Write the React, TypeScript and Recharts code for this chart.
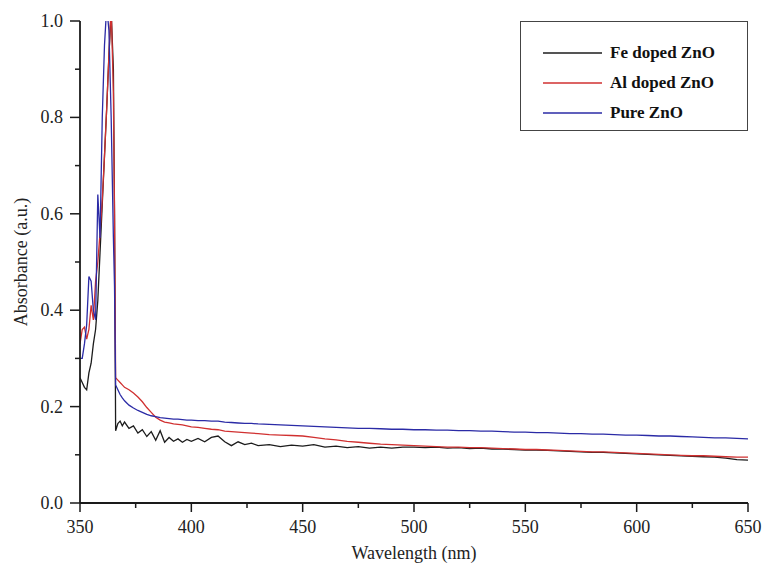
import { LineChart, Line, XAxis, YAxis, Legend } from "recharts";

// wavelength grid (nm)
const wavelengths = [
  350, 351, 352, 353, 354, 355, 356, 357, 358, 359, 360, 361, 362, 363, 364, 365,
  365.5, 366, 367, 368, 369, 370,
  372, 374, 376, 378, 380, 382, 384, 386, 388, 390, 392, 394, 396, 398, 400,
  403, 406, 409, 412, 415, 418, 421, 424, 427, 430,
  435, 440, 445, 450, 455, 460, 465, 470, 475, 480, 485, 490, 495, 500, 505, 510,
  515, 520, 525, 530, 535, 540, 545, 550, 555, 560, 565, 570, 575, 580, 585, 590,
  595, 600, 605, 610, 615, 620, 625, 630, 635, 640, 645, 650,
];

const feDoped = [
  0.26, 0.25, 0.24, 0.235, 0.27, 0.29, 0.33, 0.36, 0.42, 0.52, 0.62, 0.72, 0.82, 0.93, 1.02, 0.9,
  0.6, 0.15, 0.165, 0.17, 0.16, 0.168,
  0.155, 0.16, 0.145, 0.152, 0.138, 0.148, 0.13, 0.15, 0.126, 0.136, 0.128, 0.133, 0.126, 0.132, 0.128,
  0.134, 0.127, 0.136, 0.139, 0.127, 0.119, 0.127, 0.121, 0.124, 0.119,
  0.121, 0.117, 0.12, 0.118, 0.121, 0.116, 0.118, 0.115, 0.117, 0.114, 0.116, 0.114, 0.116, 0.116, 0.115, 0.116,
  0.114, 0.115, 0.113, 0.114, 0.112, 0.112, 0.111, 0.11, 0.11, 0.109, 0.108, 0.107, 0.106, 0.105, 0.105, 0.104,
  0.103, 0.102, 0.101, 0.1, 0.099, 0.098, 0.097, 0.096, 0.095, 0.093, 0.09, 0.089,
];

const alDoped = [
  0.33, 0.36, 0.365, 0.34, 0.36, 0.41, 0.38, 0.46, 0.5, 0.56, 0.63, 0.72, 0.82, 0.93, 1.03, 0.85,
  0.6, 0.26, 0.255, 0.25, 0.245, 0.24,
  0.235, 0.228, 0.22, 0.21, 0.198, 0.188, 0.178, 0.172, 0.168, 0.166, 0.164, 0.163, 0.162, 0.16, 0.158,
  0.157, 0.155, 0.153, 0.152, 0.149, 0.148, 0.147, 0.146, 0.145, 0.144,
  0.142, 0.141, 0.14, 0.139, 0.136, 0.133, 0.131, 0.128, 0.126, 0.124, 0.122, 0.121, 0.12, 0.119, 0.118, 0.117,
  0.116, 0.116, 0.115, 0.115, 0.114, 0.113, 0.112, 0.111, 0.111, 0.11, 0.109, 0.108, 0.107, 0.106, 0.106, 0.105,
  0.104, 0.103, 0.102, 0.101, 0.1, 0.099, 0.098, 0.098, 0.097, 0.096, 0.095, 0.095,
];

const pureZnO = [
  0.3, 0.3, 0.33, 0.37, 0.47, 0.46, 0.4, 0.38, 0.64, 0.55, 0.8, 0.95, 1.03, 0.98, 0.8, 0.55,
  0.45, 0.245, 0.235, 0.225, 0.218, 0.212,
  0.203, 0.197, 0.192, 0.188, 0.184, 0.181, 0.179, 0.177, 0.176, 0.175, 0.174, 0.174, 0.173, 0.172, 0.172,
  0.171, 0.171, 0.17, 0.17, 0.168, 0.167, 0.166, 0.165, 0.165, 0.164,
  0.163, 0.162, 0.161, 0.16, 0.159, 0.158, 0.157, 0.156, 0.155, 0.155, 0.154, 0.153, 0.153, 0.152, 0.152, 0.151,
  0.151, 0.15, 0.15, 0.149, 0.149, 0.148, 0.147, 0.147, 0.146, 0.146, 0.145, 0.144, 0.144, 0.143, 0.143, 0.142,
  0.141, 0.141, 0.14, 0.139, 0.139, 0.138, 0.137, 0.136, 0.135, 0.135, 0.134, 0.133,
];

const xTicks = [350, 375, 400, 425, 450, 475, 500, 525, 550, 575, 600, 625, 650];
const yTicks = [0, 0.1, 0.2, 0.3, 0.4, 0.5, 0.6, 0.7, 0.8, 0.9, 1.0];

const seriesNames = ["Fe doped ZnO", "Al doped ZnO", "Pure ZnO"];
const seriesColors = ["#1c1c1c", "#d03030", "#2b2ba6"];

const data = wavelengths.map((w, i) => ({
  w,
  fe: feDoped[i],
  al: alDoped[i],
  pure: pureZnO[i],
}));

const FONT = "Times New Roman, Liberation Serif, DejaVu Serif, serif";
const AXIS = "#1a1a1a";

function XTick(props: any) {
  const { x, y, payload } = props;
  const major = payload.value % 50 === 0;
  return (
    <g>
      <line x1={x} x2={x} y1={y} y2={y + (major ? 9 : 5)} stroke={AXIS} strokeWidth={1.5} />
      {major && (
        <text x={x} y={y + 30} textAnchor="middle" fontSize={18} style={{ fontFamily: FONT }} fill="#222">
          {payload.value}
        </text>
      )}
    </g>
  );
}

function YTick(props: any) {
  const { x, y, payload } = props;
  const major = Math.round(payload.value * 10) % 2 === 0;
  return (
    <g>
      <line x1={x - (major ? 10 : 5)} x2={x} y1={y} y2={y} stroke={AXIS} strokeWidth={1.5} />
      {major && (
        <text x={x - 17} y={y + 6} textAnchor="end" fontSize={18} style={{ fontFamily: FONT }} fill="#222">
          {payload.value.toFixed(1)}
        </text>
      )}
    </g>
  );
}

function LegendBox() {
  return (
    <div
      style={{
        boxSizing: "border-box",
        width: 228,
        height: 110,
        border: "1px solid #444",
        paddingTop: 16,
        fontFamily: FONT,
      }}
    >
      {seriesNames.map((name, i) => (
        <div key={name} style={{ display: "flex", alignItems: "center", height: 30 }}>
          <svg width={59} height={4} style={{ marginLeft: 22, display: "block" }}>
            <line x1={0} x2={59} y1={2} y2={2} stroke={seriesColors[i]} strokeWidth={1.5} />
          </svg>
          <span style={{ marginLeft: 8, fontSize: 17, fontWeight: "bold", color: "#111" }}>{name}</span>
        </div>
      ))}
    </div>
  );
}

export default function App() {
  return (
    <div style={{ position: "absolute", left: 0, top: 0, background: "#fff", fontFamily: FONT }}>
      <LineChart width={763} height={567} data={data} margin={{ top: 21, right: 15, bottom: 0, left: 0 }}>
        <XAxis
          dataKey="w"
          type="number"
          domain={[350, 650]}
          ticks={xTicks}
          allowDataOverflow
          height={64}
          tickSize={0}
          tickMargin={0}
          tickLine={false}
          tick={<XTick />}
          axisLine={{ stroke: AXIS, strokeWidth: 1.8 }}
          label={{
            value: "Wavelength (nm)",
            position: "insideBottom",
            offset: 8,
            style: { fontFamily: FONT, fontSize: 18, fill: "#222" },
          }}
        />
        <XAxis
          xAxisId="top"
          dataKey="w"
          type="number"
          domain={[350, 650]}
          orientation="top"
          height={0}
          tick={false}
          tickLine={false}
          axisLine={{ stroke: AXIS, strokeWidth: 1.5 }}
        />
        <YAxis
          type="number"
          domain={[0, 1]}
          ticks={yTicks}
          allowDataOverflow
          width={80}
          tickSize={0}
          tickMargin={0}
          tickLine={false}
          tick={<YTick />}
          axisLine={{ stroke: AXIS, strokeWidth: 1.8 }}
          label={{
            value: "Absorbance (a.u.)",
            angle: -90,
            position: "insideLeft",
            offset: 21,
            style: { textAnchor: "middle", fontFamily: FONT, fontSize: 18, fill: "#222" },
          }}
        />
        <YAxis
          yAxisId="right"
          orientation="right"
          domain={[0, 1]}
          width={0}
          tick={false}
          tickLine={false}
          axisLine={{ stroke: AXIS, strokeWidth: 1.5 }}
        />
        <Legend
          layout="vertical"
          align="center"
          verticalAlign="middle"
          wrapperStyle={{ top: 21, left: 520, width: 228, height: 110 }}
          content={() => <LegendBox />}
        />
        <Line dataKey="fe" name={seriesNames[0]} stroke={seriesColors[0]} strokeWidth={1.3} dot={false} isAnimationActive={false} />
        <Line dataKey="al" name={seriesNames[1]} stroke={seriesColors[1]} strokeWidth={1.3} dot={false} isAnimationActive={false} />
        <Line dataKey="pure" name={seriesNames[2]} stroke={seriesColors[2]} strokeWidth={1.3} dot={false} isAnimationActive={false} />
      </LineChart>
    </div>
  );
}
